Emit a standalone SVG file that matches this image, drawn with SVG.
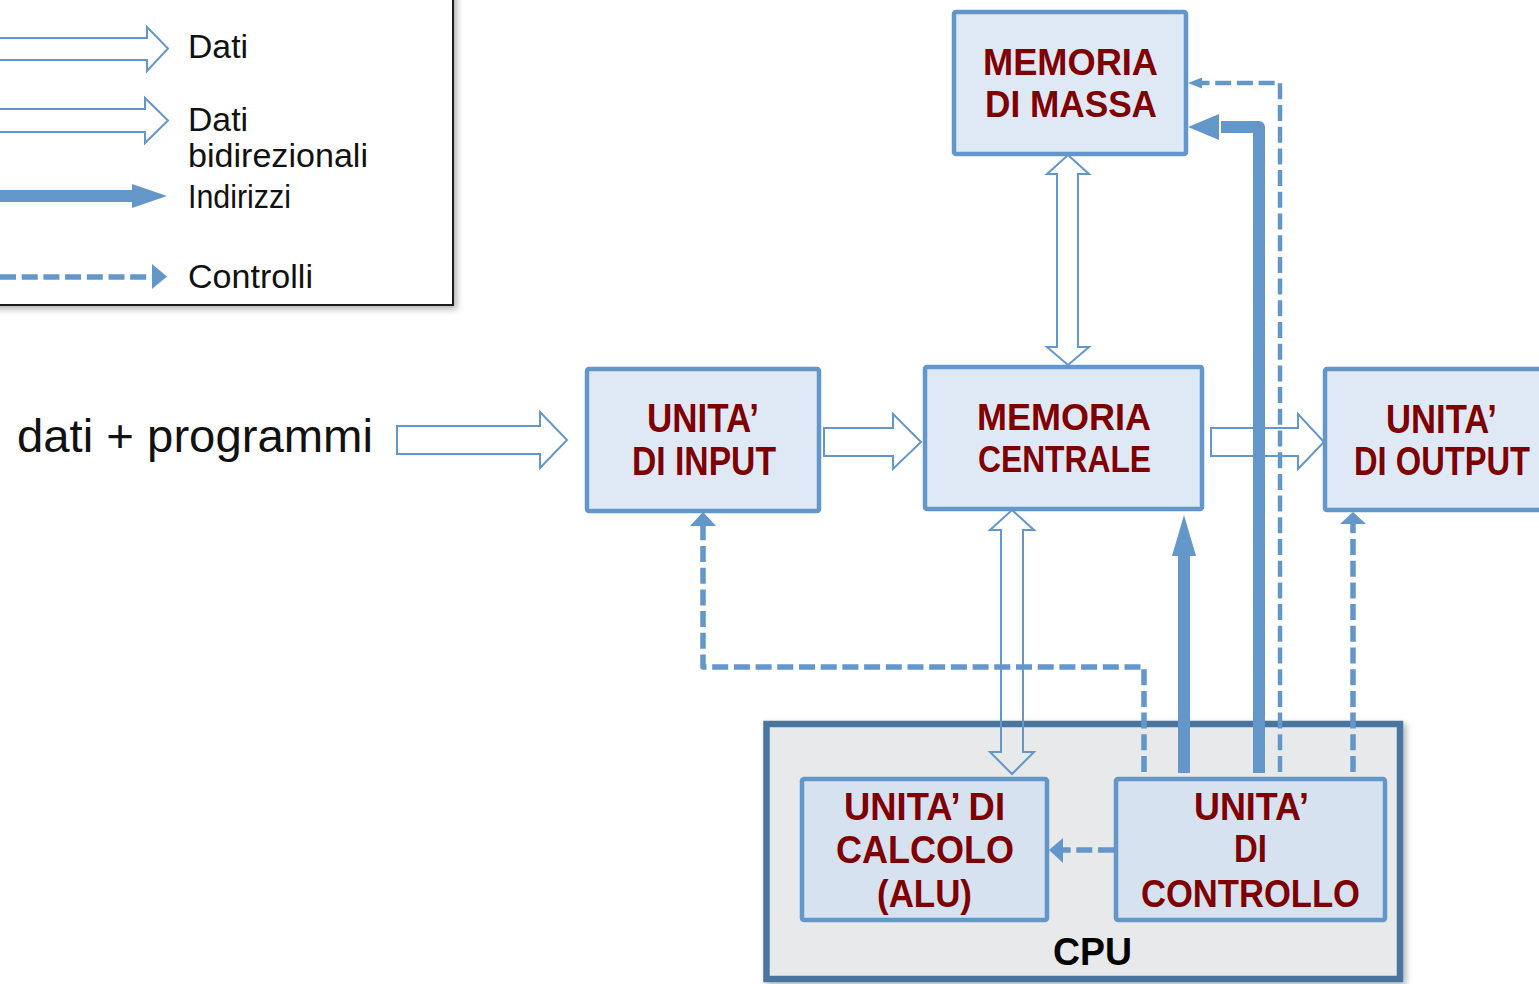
<svg xmlns="http://www.w3.org/2000/svg" width="1539" height="984" viewBox="0 0 1539 984">
  <defs>
    <style>
      .box { fill: #dfe9f5; stroke: #6397ca; stroke-width: 4.5; }
      .inner { fill: #d6e2ef; stroke: #6397ca; stroke-width: 4.5; }
      .lbl { font-family: "Liberation Sans", Arial, sans-serif; font-weight: bold; fill: #7f0000; }
      .leg { font-family: "Liberation Sans", Arial, sans-serif; font-size: 33px; fill: #111; }
      .hollow { fill: none; stroke: #6397ca; stroke-width: 2; stroke-linejoin: miter; }
      .addr { fill: none; stroke: #6397ca; stroke-width: 12; stroke-linejoin: round; }
      .ctl { fill: none; stroke: #6397ca; stroke-width: 5.5; stroke-dasharray: 16 5.7; stroke-linejoin: round; }
      .head { fill: #6397ca; }
    </style>
    <filter id="shadow" x="-5%" y="-5%" width="115%" height="115%">
      <feDropShadow dx="3" dy="3" stdDeviation="3" flood-color="#000" flood-opacity="0.3"/>
    </filter>
  </defs>

  <rect width="1539" height="984" fill="#ffffff"/>

  <!-- legend -->
  <g id="legend">
    <rect x="-10" y="-10" width="463" height="315" fill="#ffffff" stroke="#1a1a1a" stroke-width="2" filter="url(#shadow)"/>
    <polygon class="hollow" points="-5,38 147,38 147,27 168,48.5 147,71 147,60 -5,60"/>
    <polygon class="hollow" points="-5,109 145,109 145,98 168,120.5 145,143 145,132 -5,132"/>
    <line class="addr" x1="-5" y1="196" x2="134" y2="196"/>
    <polygon class="head" points="132,184 167,196 132,208"/>
    <path class="ctl" d="M0,277 H152"/>
    <polygon class="head" points="152,264 167,276.5 152,289"/>
    <text class="leg" x="188" y="58" textLength="60" lengthAdjust="spacingAndGlyphs">Dati</text>
    <text class="leg" x="188" y="131" textLength="60" lengthAdjust="spacingAndGlyphs">Dati</text>
    <text class="leg" x="188" y="167" textLength="180" lengthAdjust="spacingAndGlyphs">bidirezionali</text>
    <text class="leg" x="188" y="208" textLength="103" lengthAdjust="spacingAndGlyphs">Indirizzi</text>
    <text class="leg" x="188" y="288" textLength="125" lengthAdjust="spacingAndGlyphs">Controlli</text>
  </g>

  <!-- outside input label -->
  <text x="17" y="452" font-family="Liberation Sans, Arial, sans-serif" font-size="47" fill="#111" textLength="356" lengthAdjust="spacingAndGlyphs">dati + programmi</text>

  <!-- CPU container -->
  <g id="cpu">
    <rect x="766.5" y="724" width="633.5" height="255" fill="#e8e9eb" stroke="#49759f" stroke-width="6.5" filter="url(#shadow)"/>
    <text x="1053" y="965" font-family="Liberation Sans, Arial, sans-serif" font-weight="bold" font-size="39" fill="#000" textLength="79" lengthAdjust="spacingAndGlyphs">CPU</text>
  </g>

  <!-- nodes -->
  <g id="memoria-massa">
    <rect class="box" x="954" y="12" width="232" height="142" rx="2"/>
    <text class="lbl" font-size="36" x="983" y="75" textLength="175" lengthAdjust="spacingAndGlyphs">MEMORIA</text>
    <text class="lbl" font-size="36" x="985" y="117" textLength="172" lengthAdjust="spacingAndGlyphs">DI MASSA</text>
  </g>

  <g id="unita-input">
    <rect class="box" x="587" y="369" width="232" height="142" rx="2"/>
    <text class="lbl" font-size="40" x="647" y="432" textLength="112" lengthAdjust="spacingAndGlyphs">UNITA’</text>
    <text class="lbl" font-size="40" x="632" y="475" textLength="144" lengthAdjust="spacingAndGlyphs">DI INPUT</text>
  </g>

  <g id="memoria-centrale">
    <rect class="box" x="925" y="367" width="277" height="142" rx="2"/>
    <text class="lbl" font-size="36" x="977" y="430" textLength="174" lengthAdjust="spacingAndGlyphs">MEMORIA</text>
    <text class="lbl" font-size="36" x="978" y="472" textLength="173" lengthAdjust="spacingAndGlyphs">CENTRALE</text>
  </g>

  <g id="unita-output">
    <rect class="box" x="1325" y="369" width="240" height="141" rx="2"/>
    <text class="lbl" font-size="40" x="1386" y="433" textLength="111" lengthAdjust="spacingAndGlyphs">UNITA’</text>
    <text class="lbl" font-size="40" x="1354" y="475" textLength="176" lengthAdjust="spacingAndGlyphs">DI OUTPUT</text>
  </g>

  <g id="alu">
    <rect class="inner" x="802" y="779" width="245" height="141" rx="2"/>
    <text class="lbl" font-size="38" x="844" y="820" textLength="161" lengthAdjust="spacingAndGlyphs">UNITA’ DI</text>
    <text class="lbl" font-size="38" x="836" y="863" textLength="178" lengthAdjust="spacingAndGlyphs">CALCOLO</text>
    <text class="lbl" font-size="38" x="877" y="907" textLength="95" lengthAdjust="spacingAndGlyphs">(ALU)</text>
  </g>

  <g id="unita-controllo">
    <rect class="inner" x="1116" y="779" width="269" height="141" rx="2"/>
    <text class="lbl" font-size="38" x="1194" y="820" textLength="115" lengthAdjust="spacingAndGlyphs">UNITA’</text>
    <text class="lbl" font-size="38" x="1234" y="862" textLength="33" lengthAdjust="spacingAndGlyphs">DI</text>
    <text class="lbl" font-size="38" x="1141" y="907" textLength="219" lengthAdjust="spacingAndGlyphs">CONTROLLO</text>
  </g>

  <!-- connectors -->
  <g id="connectors">
    <!-- data paths (hollow arrows) -->
    <polygon class="hollow" points="397,426 540,426 540,412 567,440 540,468 540,454 397,454"/>
    <polygon class="hollow" points="824,428 893,428 893,414 921,442 893,469 893,456 824,456"/>
    <polygon class="hollow" points="1211,428 1298,428 1298,414 1324,442 1298,469 1298,456 1211,456"/>
    <polygon class="hollow" points="1068,155 1089,174 1078,174 1078,347 1089,347 1068,365 1047,347 1057,347 1057,174 1047,174"/>
    <polygon class="hollow" points="1012,510 1034,530 1023,530 1023,752 1034,752 1012,774 990,752 1001,752 1001,530 990,530"/>

    <!-- address buses -->
    <line class="addr" x1="1184" y1="773" x2="1184" y2="553"/>
    <polygon class="head" points="1172,556 1184,515 1196,556"/>
    <path class="addr" d="M1259,773 V127 H1221"/>
    <polygon class="head" points="1219,114 1188,127 1219,140"/>

    <!-- control signals -->
    <path class="ctl" d="M1144,772 V667 H703 V526"/>
    <polygon class="head" points="690,526 703,512 716,526"/>
    <path class="ctl" style="stroke-width:4.5" d="M1280,772 V83 H1202"/>
    <polygon class="head" points="1202,77.5 1188,83 1202,88.5"/>
    <path class="ctl" d="M1353,772 V524"/>
    <polygon class="head" points="1340,524 1353,512 1366,524"/>
    <path class="ctl" d="M1114,850 H1063"/>
    <polygon class="head" points="1063,838 1049,850 1063,863"/>
  </g>
</svg>
